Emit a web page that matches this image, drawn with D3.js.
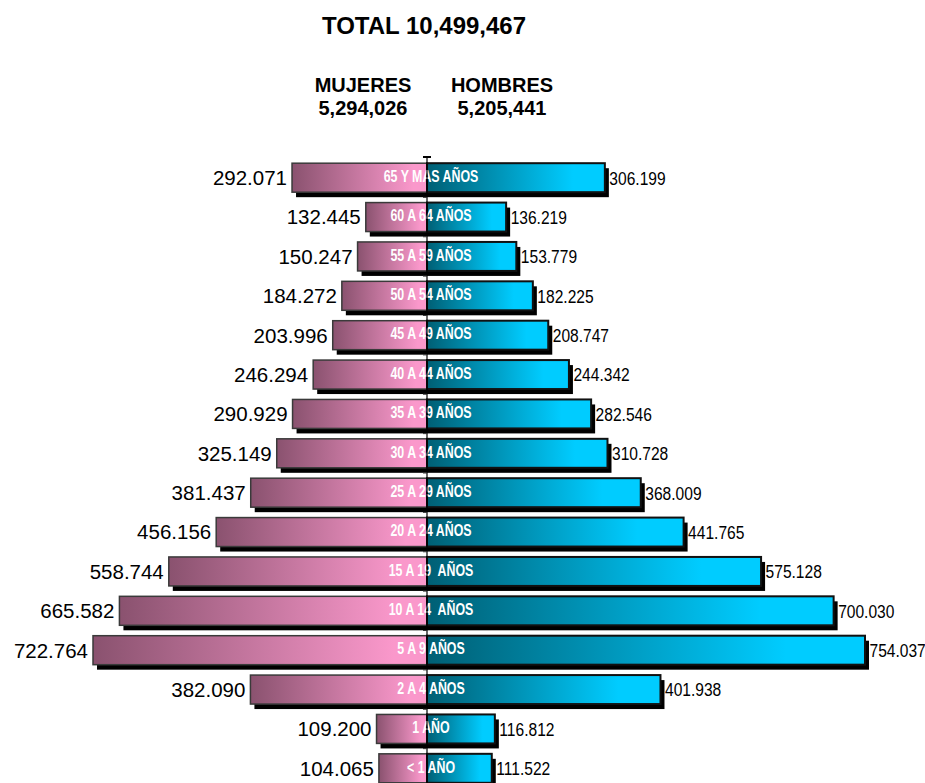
<!DOCTYPE html>
<html>
<head>
<meta charset="utf-8">
<script src="https://cdn.jsdelivr.net/npm/d3@7"></script>
<style>
  html, body { margin: 0; padding: 0; background: #ffffff; }
  svg { display: block; }
</style>
</head>
<body>
<svg id="chart" width="925" height="783"></svg>
<script>
// ---- data ----
const categories = ["65 Y MAS AÑOS", "60 A 64 AÑOS", "55 A 59 AÑOS", "50 A 54 AÑOS", "45 A 49 AÑOS",
  "40 A 44 AÑOS", "35 A 39 AÑOS", "30 A 34 AÑOS", "25 A 29 AÑOS", "20 A 24 AÑOS",
  "15 A 19  AÑOS", "10 A 14  AÑOS", "5 A 9 AÑOS", "2 A 4 AÑOS", "1 AÑO", "< 1 AÑO"];
const mujeres = [292071, 132445, 150247, 184272, 203996, 246294, 290929, 325149, 381437, 456156,
  558744, 665582, 722764, 382090, 109200, 104065];
const hombres = [306199, 136219, 153779, 182225, 208747, 244342, 282546, 310728, 368009, 441765,
  575128, 700030, 754037, 401938, 116812, 111522];
const mujeresLabels = ["292.071", "132.445", "150.247", "184.272", "203.996", "246.294", "290.929", "325.149",
  "381.437", "456.156", "558.744", "665.582", "722.764", "382.090", "109.200", "104.065"];
const hombresLabels = ["306.199", "136.219", "153.779", "182.225", "208.747", "244.342", "282.546", "310.728",
  "368.009", "441.765", "575.128", "700.030", "754.037", "401.938", "116.812", "111.522"];
const titleText = "TOTAL 10,499,467";
const leftHeader = ["MUJERES", "5,294,026"];
const rightHeader = ["HOMBRES", "5,205,441"];

// ---- layout ----
const svg = d3.select("#chart");
const cx = 427;
const narrow = 0.82;
const rows = categories.map((c, i) => ({ cat: c, m: mujeres[i], h: hombres[i], ml: mujeresLabels[i], hl: hombresLabels[i] }));

const y = d3.scaleBand().domain(categories).range([158, 788]).paddingInner(0.264).paddingOuter(0.132);
const xL = d3.scaleLinear().domain([0, 722764]).range([0, 334]);
const xR = d3.scaleLinear().domain([0, 754037]).range([0, 438]);

const defs = svg.append("defs");
const gL = defs.append("linearGradient").attr("id", "gradL").attr("x1", "0").attr("x2", "1").attr("y1", "0").attr("y2", "0");
gL.append("stop").attr("offset", "0").attr("stop-color", "#8a526f");
gL.append("stop").attr("offset", "0.9").attr("stop-color", "#fa98cb");
gL.append("stop").attr("offset", "1").attr("stop-color", "#fa98cb");
const gR = defs.append("linearGradient").attr("id", "gradR").attr("x1", "0").attr("x2", "1").attr("y1", "0").attr("y2", "0");
gR.append("stop").attr("offset", "0").attr("stop-color", "#005f74");
gR.append("stop").attr("offset", "0.82").attr("stop-color", "#00ccff");
gR.append("stop").attr("offset", "1").attr("stop-color", "#00ccff");

// titles
svg.append("text").attr("x", 424).attr("y", 34).attr("text-anchor", "middle")
  .style("font-family", "'Liberation Sans', Arial, sans-serif").style("font-weight", "bold").style("font-size", "24px")
  .text(titleText);
[[363, leftHeader], [502, rightHeader]].forEach(([x, lines]) => {
  lines.forEach((t, i) => {
    svg.append("text").attr("x", x).attr("y", 92 + i * 23).attr("text-anchor", "middle")
      .style("font-family", "'Liberation Sans', Arial, sans-serif").style("font-weight", "bold").style("font-size", "20px")
      .text(t);
  });
});

const bw = y.bandwidth();
const sdx = 4, sdy = 5;

// shadows
const g = svg.append("g");
g.selectAll("rect.shL").data(rows).join("rect").attr("class", "shL")
  .attr("x", d => cx - xL(d.m) + sdx).attr("y", d => y(d.cat) + sdy)
  .attr("width", d => xL(d.m)).attr("height", bw).attr("fill", "#000");
g.selectAll("rect.shR").data(rows).join("rect").attr("class", "shR")
  .attr("x", cx + sdx).attr("y", d => y(d.cat) + sdy)
  .attr("width", d => xR(d.h)).attr("height", bw).attr("fill", "#000");

// bars
g.selectAll("rect.barL").data(rows).join("rect").attr("class", "barL")
  .attr("x", d => cx - xL(d.m)).attr("y", d => y(d.cat))
  .attr("width", d => xL(d.m)).attr("height", bw)
  .attr("fill", "url(#gradL)").attr("stroke", "#3a3a3a").attr("stroke-width", 1.5);
g.selectAll("rect.barR").data(rows).join("rect").attr("class", "barR")
  .attr("x", cx).attr("y", d => y(d.cat))
  .attr("width", d => xR(d.h)).attr("height", bw)
  .attr("fill", "url(#gradR)").attr("stroke", "#111").attr("stroke-width", 2);

// value labels
g.selectAll("text.vl").data(rows).join("text").attr("class", "vl")
  .attr("x", d => cx - xL(d.m) - 5).attr("y", d => y(d.cat) + bw / 2).attr("dy", "0.36em")
  .attr("text-anchor", "end")
  .style("font-family", "'Liberation Sans', Arial, sans-serif").style("font-size", "20.5px").style("fill", "#000")
  .text(d => d.ml);
g.selectAll("text.vr").data(rows).join("text").attr("class", "vr")
  .attr("transform", d => `translate(${cx + xR(d.h) + sdx + 0.5},${y(d.cat) + bw / 2}) scale(${narrow},1)`)
  .attr("dy", "0.36em")
  .attr("text-anchor", "start")
  .style("font-family", "'Liberation Sans', Arial, sans-serif").style("font-size", "19px").style("fill", "#000")
  .text(d => d.hl);

// category labels
g.selectAll("text.cat").data(rows).join("text").attr("class", "cat")
  .attr("transform", d => `translate(${cx + 4},${y(d.cat) + bw / 2 - 1.5}) scale(0.75,1)`)
  .attr("dy", "0.35em")
  .attr("text-anchor", "middle")
  .style("font-family", "'Liberation Sans', Arial, sans-serif").style("font-weight", "bold")
  .style("font-size", "16.5px").style("fill", "#fff").style("white-space", "pre")
  .attr("xml:space", "preserve")
  .text(d => d.cat);

// central axis
svg.append("line").attr("x1", cx).attr("x2", cx).attr("y1", 157).attr("y2", 783).attr("stroke", "#000").attr("stroke-width", 1.2);
svg.append("line").attr("x1", cx - 4).attr("x2", cx + 4).attr("y1", 157).attr("y2", 157).attr("stroke", "#000").attr("stroke-width", 2);
// tick marks between bands
const step = y.step();
svg.selectAll("line.tk").data(categories.slice(1)).join("line").attr("class", "tk")
  .attr("x1", cx - 4).attr("x2", cx).attr("y1", d => y(d) - (step - bw) / 2).attr("y2", d => y(d) - (step - bw) / 2)
  .attr("stroke", "#333").attr("stroke-width", 1);
</script>
</body>
</html>
